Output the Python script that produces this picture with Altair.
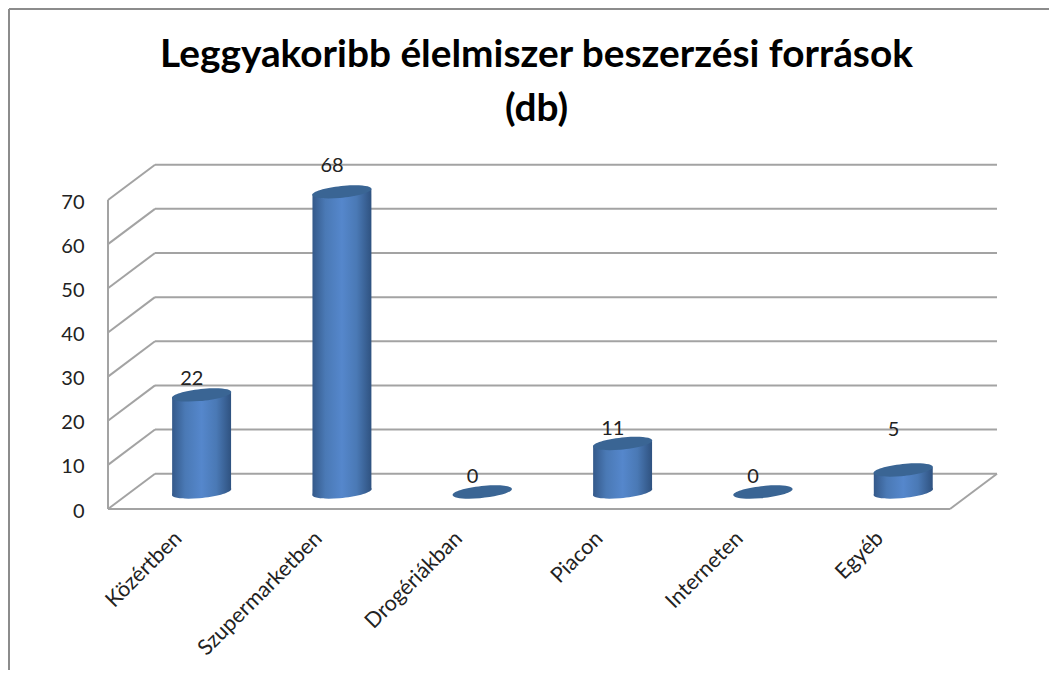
import altair as alt
import pandas as pd

categories = ["Közértben", "Szupermarketben", "Drogériákban", "Piacon", "Interneten", "Egyéb"]
values = [22, 68, 0, 11, 0, 5]
label_heights = [29.4, 77.7, 7.2, 18.1, 7.2, 17.8]
grid_levels = [0, 10, 20, 30, 40, 50, 60, 70]

DX, DY = 0.335, 8.0
XMAX, YMAX = 6.335, 78.16
CX, CY = 0.667, 3.85
HW, TILT = 0.21, 0.57
FONT = "Lato"
TXT = "#222222"
GRID = "#a3a3a3"

x_scale = alt.Scale(domain=[0, XMAX], range=[0, 889], nice=False, zero=False)
y_scale = alt.Scale(domain=[0, YMAX], range=[345, 0], nice=False, zero=False)
X = lambda f="x": alt.X(f, type="quantitative", scale=x_scale, title=None,
    axis=alt.Axis(values=[i + 0.5 for i in range(6)], domain=False, ticks=False, grid=False,
                  labelExpr="['Közértben','Szupermarketben','Drogériákban','Piacon','Interneten','Egyéb'][floor(datum.value)]",
                  labelAngle=315, labelAlign="right", labelBaseline="middle", labelPadding=26,
                  labelFontSize=21.5, labelFont=FONT, labelColor=TXT, labelOverlap=False, labelBound=False, labelFlush=False))
Y = lambda f="y": alt.Y(f, type="quantitative", scale=y_scale, title=None,
    axis=alt.Axis(values=grid_levels, domain=False, ticks=False, grid=False, labelPadding=24, labelOffset=2,
                  labelFontSize=20, labelFont=FONT, labelColor=TXT))

rows = []
for v in grid_levels:
    rows.append(dict(x=0, x2=DX, y=v, y2=v + DY))
    rows.append(dict(x=DX, x2=XMAX, y=v + DY, y2=v + DY))
rows += [dict(x=0, x2=0, y=0, y2=70), dict(x=0, x2=6, y=0, y2=0), dict(x=6, x2=XMAX, y=0, y2=DY)]
grid = alt.Chart(pd.DataFrame(rows)).mark_rule(color=GRID, strokeWidth=2).encode(
    x=X(), x2="x2:Q", y=Y(), y2="y2:Q")

bars = pd.DataFrame(dict(name=categories, value=values, lab=label_heights))
bars["cx"] = [i + CX for i in range(6)]
bars["base"] = CY
bars["top"] = bars["value"] + CY
bars["labx"] = bars["cx"] - 0.07

ELLIPSE = "M-1,0.085 A1,0.2 -6 1 1 1,-0.085 A1,0.2 -6 1 1 -1,0.085 Z"
body_grad = alt.Gradient(gradient="linear", x1=0, x2=1, y1=0, y2=0, stops=[
    alt.GradientStop(offset=0, color="#34598a"),
    alt.GradientStop(offset=0.22, color="#4a79b5"),
    alt.GradientStop(offset=0.5, color="#5587cc"),
    alt.GradientStop(offset=0.75, color="#4a79b5"),
    alt.GradientStop(offset=1, color="#2f5280"),
])
SIZE = 3500

bottom = alt.Chart(bars[bars.value > 0]).mark_point(shape=ELLIPSE, size=SIZE, filled=True, fill=body_grad, opacity=1, strokeWidth=0).encode(
    x=alt.X("cx:Q", scale=x_scale), y=alt.Y("base:Q", scale=y_scale))

sides = []
for _, r in bars[bars.value > 0].iterrows():
    sides += [dict(name=r["name"], x=r["cx"] - HW, y=r["base"] - TILT, y2=r["top"] - TILT),
              dict(name=r["name"], x=r["cx"] + HW, y=r["base"] + TILT, y2=r["top"] + TILT)]
body = alt.Chart(pd.DataFrame(sides)).mark_area(fill=body_grad, opacity=1).encode(
    x=alt.X("x:Q", scale=x_scale), y=alt.Y("y:Q", scale=y_scale), y2="y2:Q", detail="name:N")

top = alt.Chart(bars).mark_point(shape=ELLIPSE, size=SIZE, filled=True, fill="#3a6594", opacity=1, strokeWidth=0).encode(
    x=alt.X("cx:Q", scale=x_scale), y=alt.Y("top:Q", scale=y_scale))

labels = alt.Chart(bars).mark_text(font=FONT, fontSize=20, color=TXT).encode(
    x=alt.X("labx:Q", scale=x_scale), y=alt.Y("lab:Q", scale=y_scale), text="value:Q")

frame_v = alt.Chart(pd.DataFrame({"a": [0]})).mark_rule(color="#8c8c8c", strokeWidth=2).encode(
    x=alt.value(-99), y=alt.value(-155), y2=alt.value(506))
frame_h = alt.Chart(pd.DataFrame({"a": [0]})).mark_rule(color="#8c8c8c", strokeWidth=2).encode(
    y=alt.value(-155), x=alt.value(-99), x2=alt.value(941))

axes = alt.Chart(pd.DataFrame(dict(x=[0], y=[0]))).mark_point(opacity=0).encode(x=X(), y=Y())

chart = alt.layer(frame_v, frame_h, axes, grid, bottom, body, top, labels).properties(
    width=889, height=345,
    title=alt.TitleParams(
        text=["Leggyakoribb élelmiszer beszerzési források", "(db)"],
        font=FONT, fontSize=38.8, fontWeight="bold", color="#000000",
        anchor="middle", dx=-16, offset=-121, lineHeight=54),
    autosize=alt.AutoSizeParams(type="none"),
    padding={"left": 100, "top": 156, "right": 52, "bottom": 161},
).configure_view(stroke=None)

chart.save("out.html", embed_options={"renderer": "svg", "actions": False})
